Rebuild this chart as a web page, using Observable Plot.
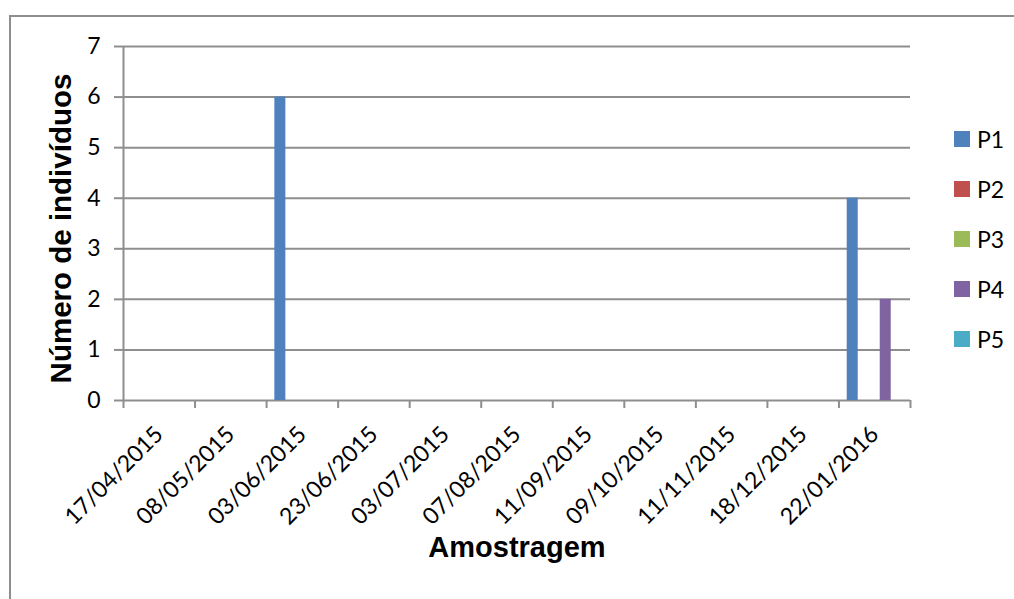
<!DOCTYPE html>
<html>
<head>
<meta charset="utf-8">
<script src="https://cdn.jsdelivr.net/npm/d3@7"></script>
<script src="https://cdn.jsdelivr.net/npm/@observablehq/plot@0.6"></script>
<style>
  html, body { margin: 0; padding: 0; background: #fff; overflow: hidden; }
  #wrap { position: relative; width: 1014px; height: 599px; }
  #border { position: absolute; left: 9px; top: 15px; width: 1200px; height: 800px; border: 2px solid #8e8e8e; box-sizing: border-box; }
  #chart { position: absolute; left: 0; top: 0; }
  #legend { position: absolute; left: 954px; top: 114px; font-family: Lato, "Open Sans", sans-serif; font-size: 23px; color: #000; }
  .item { display: flex; align-items: center; height: 50px; }
  .sw { width: 16px; height: 16px; margin-right: 7px; }
</style>
</head>
<body>
<div id="wrap">
  <div id="border"></div>
  <div id="chart"></div>
  <div id="legend"></div>
</div>
<script>
// ---- data ----
const dates = ["17/04/2015","08/05/2015","03/06/2015","23/06/2015","03/07/2015","07/08/2015","11/09/2015","09/10/2015","11/11/2015","18/12/2015","22/01/2016"];
const series = ["P1","P2","P3","P4","P5"];
const P1 = [0,0,6,0,0,0,0,0,0,0,4];
const P2 = [0,0,0,0,0,0,0,0,0,0,0];
const P3 = [0,0,0,0,0,0,0,0,0,0,0];
const P4 = [0,0,0,0,0,0,0,0,0,0,2];
const P5 = [0,0,0,0,0,0,0,0,0,0,0];
const yTicks = [0,1,2,3,4,5,6,7];
const colors = ["#4f81bd","#c0504d","#9bbb59","#8064a2","#4bacc6"];
const xTitle = "Amostragem";
const yTitle = "Número de indivíduos";

const values = [P1,P2,P3,P4,P5];
const gapWidth = 1.5; // Excel-style gap width (150%)
const slots = series.length + gapWidth;
const table = [];
dates.forEach((d, i) => series.forEach((s, j) => table.push({i, j, date: d, series: s, value: values[j][i]})));

const grid = "#8e8e8e";
const tickFont = 'Lato, "Open Sans", sans-serif';
const titleFont = '"Liberation Sans", Arial, sans-serif';

const chart = Plot.plot({
  width: 1014,
  height: 599,
  marginLeft: 123,
  marginRight: 104,
  marginTop: 46,
  marginBottom: 199,
  style: {background: "transparent", overflow: "visible"},
  x: {domain: [0, dates.length], axis: null},
  y: {domain: [0, 7], axis: null},
  color: {domain: series, range: colors},
  marks: [
    Plot.ruleY(yTicks, {stroke: grid, strokeWidth: 2}),
    Plot.rectY(table, {
      x1: d => d.i + (gapWidth / 2 + d.j) / slots,
      x2: d => d.i + (gapWidth / 2 + d.j + 1) / slots,
      y: "value",
      fill: "series"
    }),
    Plot.ruleX([0], {stroke: grid, strokeWidth: 2}),
    Plot.axisY({ticks: yTicks, tickFormat: d3.format("d"), tickSize: 9, tickPadding: 14, stroke: grid, strokeWidth: 2, fill: "#000",
      fontSize: 23, fontFamily: tickFont, label: null}),
    Plot.axisX({ticks: d3.range(dates.length + 1), tickSize: 8, tickFormat: () => "", stroke: grid, strokeWidth: 2, label: null}),
    Plot.axisX({ticks: d3.range(dates.length).map(i => i + 0.5), tickSize: 0, tickPadding: 30,
      tickFormat: t => dates[Math.floor(t)], tickRotate: -45, fill: "#000",
      fontSize: 23, fontFamily: tickFont, label: null}),
    Plot.text([xTitle], {frameAnchor: "bottom", dy: 156, fontSize: 29, fontWeight: "bold", fontFamily: titleFont, fill: "#000"}),
    Plot.text([yTitle], {frameAnchor: "left", textAnchor: "middle", rotate: -90, dx: -62, dy: 5, fontSize: 29.5, fontWeight: "bold", fontFamily: titleFont, fill: "#000"})
  ]
});
document.getElementById("chart").appendChild(chart);

const legend = document.getElementById("legend");
series.forEach((s, j) => {
  const item = document.createElement("div");
  item.className = "item";
  const sw = document.createElement("span");
  sw.className = "sw";
  sw.style.background = colors[j];
  const lab = document.createElement("span");
  lab.textContent = s;
  item.appendChild(sw);
  item.appendChild(lab);
  legend.appendChild(item);
});
</script>
</body>
</html>
